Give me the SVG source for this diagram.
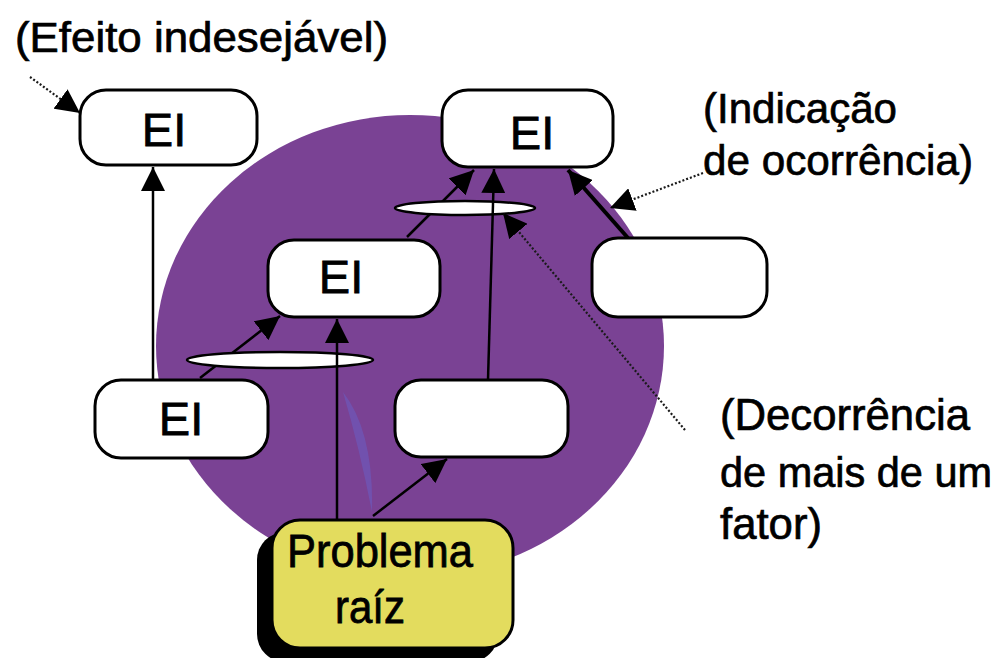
<svg xmlns="http://www.w3.org/2000/svg" width="1002" height="658" viewBox="0 0 1002 658">
  <style>
    .box { fill: #ffffff; stroke: #000000; stroke-width: 3; }
    .root { fill: #e3dc5e; stroke: #000000; stroke-width: 3; }
    .link { fill: none; stroke: #000000; stroke-width: 2.5; }
    .thick { stroke-width: 4; }
    .and { fill: #ffffff; stroke: #000000; stroke-width: 2.5; }
    .note { fill: none; stroke: #1a1a1a; stroke-width: 2.2; stroke-dasharray: 2 2; }
    .lbl { font-family: "Liberation Sans", Arial, sans-serif; font-size: 47px; fill: #000000; stroke: #000000; stroke-width: 0.8; text-anchor: middle; }
    .ann { font-family: "Liberation Sans", Arial, sans-serif; fill: #000000; stroke: #000000; stroke-width: 0.7; }
  </style>
  <defs>
    <marker id="head" viewBox="0 0 10 10" refX="10" refY="5" markerUnits="userSpaceOnUse" markerWidth="24" markerHeight="24" orient="auto">
      <path d="M0,0 L10,5 L0,10 z" fill="#000000"/>
    </marker>
  </defs>

  <rect width="1002" height="658" fill="#ffffff"/>

  <!-- background disc -->
  <ellipse id="disc" cx="410" cy="346" rx="254" ry="231" fill="#7a4294"/>
  <path d="M343,392 Q374,432 372,512 Q360,450 343,392 z" fill="#6a5cc0" opacity="0.6"/>

  <g id="connectors">
    <!-- causal links passing under the AND ellipses -->
    <line class="link" x1="200" y1="378" x2="280" y2="316" marker-end="url(#head)"/>
    <line class="link" x1="407" y1="237" x2="474" y2="170" marker-end="url(#head)"/>
    <!-- AND ellipses -->
    <ellipse class="and" cx="280" cy="360" rx="93" ry="8"/>
    <ellipse class="and" cx="465" cy="208" rx="70" ry="7"/>
    <!-- remaining links -->
    <line class="link" x1="153" y1="380" x2="153" y2="167" marker-end="url(#head)"/>
    <line class="link" x1="337" y1="520" x2="337" y2="319" marker-end="url(#head)"/>
    <line class="link" x1="488" y1="380" x2="494" y2="169" marker-end="url(#head)"/>
    <line class="link" x1="373" y1="516" x2="447" y2="459" marker-end="url(#head)"/>
    <line class="link thick" x1="628" y1="238" x2="568" y2="170" marker-end="url(#head)"/>
    <!-- annotation pointers -->
    <line class="note" x1="30" y1="77" x2="80" y2="113" marker-end="url(#head)"/>
    <line class="note" x1="703" y1="173" x2="610" y2="208" marker-end="url(#head)"/>
    <line class="note" x1="685" y1="430" x2="503" y2="213" marker-end="url(#head)"/>
  </g>

  <g id="ei-top-left">
    <rect class="box" x="80" y="90" width="177" height="75" rx="26"/>
    <text class="lbl" x="164" y="146">EI</text>
  </g>
  <g id="ei-top-right">
    <rect class="box" x="442" y="90" width="171" height="77" rx="26"/>
    <text class="lbl" x="532" y="149">EI</text>
  </g>
  <g id="ei-middle">
    <rect class="box" x="268" y="240" width="172" height="77" rx="26"/>
    <text class="lbl" x="341" y="293">EI</text>
  </g>
  <g id="blank-right">
    <rect class="box" x="592" y="238" width="175" height="79" rx="26"/>
  </g>
  <g id="ei-bottom-left">
    <rect class="box" x="95" y="380" width="173" height="78" rx="26"/>
    <text class="lbl" x="181" y="435">EI</text>
  </g>
  <g id="blank-bottom">
    <rect class="box" x="395" y="380" width="173" height="77" rx="26"/>
  </g>
  <g id="root-problem">
    <rect x="257" y="532" width="241" height="130" rx="28" fill="#000000"/>
    <rect class="root" x="272" y="520" width="241" height="128" rx="28"/>
    <text class="lbl" x="380" y="567" textLength="186" lengthAdjust="spacingAndGlyphs">Problema</text>
    <text class="lbl" x="370" y="623" textLength="70" lengthAdjust="spacingAndGlyphs">raíz</text>
  </g>

  <g id="annotations">
    <text class="ann" x="15" y="52" font-size="42" textLength="373" lengthAdjust="spacingAndGlyphs">(Efeito indesejável)</text>
    <text class="ann" x="703" y="123" font-size="43" textLength="194" lengthAdjust="spacingAndGlyphs">(Indicação</text>
    <text class="ann" x="703" y="175" font-size="43" textLength="270" lengthAdjust="spacingAndGlyphs">de ocorrência)</text>
    <text class="ann" x="720" y="430" font-size="45" textLength="250" lengthAdjust="spacingAndGlyphs">(Decorrência</text>
    <text class="ann" x="720" y="487" font-size="42" textLength="272" lengthAdjust="spacingAndGlyphs">de mais de um</text>
    <text class="ann" x="720" y="539" font-size="45" textLength="102" lengthAdjust="spacingAndGlyphs">fator)</text>
  </g>
</svg>
